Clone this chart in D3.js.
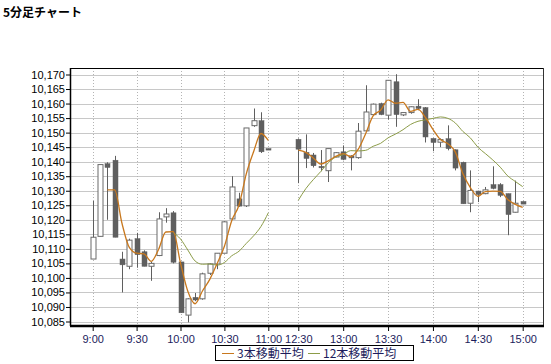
<!DOCTYPE html>
<html>
<head>
<meta charset="utf-8">
<script src="https://cdn.jsdelivr.net/npm/d3@7"></script>
<style>
  body { margin: 0; background: #fff; }
  svg { display: block; }
  .title { font-family: "Noto Sans CJK JP", sans-serif; font-weight: bold; font-size: 12px; }
  .tick text { font-family: "Liberation Sans", Arial, sans-serif; font-size: 11px; }
  .legend text { font-family: "Noto Sans CJK JP", sans-serif; font-size: 12px; fill: #1c1c5c; }
</style>
</head>
<body>
<div id="chart"></div>
<script>
// 5-minute bars, morning 9:00-11:00 then afternoon 12:30-15:00
const times = ["9:00","9:05","9:10","9:15","9:20","9:25","9:30","9:35","9:40","9:45","9:50","9:55",
  "10:00","10:05","10:10","10:15","10:20","10:25","10:30","10:35","10:40","10:45","10:50","10:55","11:00",
  "12:30","12:35","12:40","12:45","12:50","12:55","13:00","13:05","13:10","13:15","13:20","13:25",
  "13:30","13:35","13:40","13:45","13:50","13:55","14:00","14:05","14:10","14:15","14:20","14:25",
  "14:30","14:35","14:40","14:45","14:50","14:55","15:00"];

const opens = [10106.5,10114.3,10139.3,10140.5,10106.5,10104,10113.5,10109,10104,10107.7,10121,10122.4,
  10105.5,10087.2,10093.3,10092.8,10101.6,10104.8,10108.5,10120.3,10127.2,10124.8,10152.4,10154.1,10144.5,
  10147.7,10143.2,10142.3,10138.4,10136.9,10141.6,10143.4,10142,10141.4,10150.6,10156.2,10160,
  10156,10167.5,10156.1,10156.9,10159.1,10158.6,10148,10146.7,10147.9,10144.1,10139.8,10125.7,
  10129.9,10129,10132.1,10132.1,10129,10122.6,10126.3];
const highs = [10126.5,10139,10139.8,10142,10109,10113.5,10115.5,10109.5,10105.5,10122.6,10124,10123,
  10105.5,10093,10094.8,10101.8,10105,10108.5,10119.5,10135,10129.3,10151.6,10158.3,10157,10144.5,
  10148,10149.4,10143,10144,10144.5,10143.3,10145.6,10142.2,10153.3,10166.3,10160,10160.3,
  10168,10170.1,10157,10159,10161.5,10158.8,10148,10148,10152.5,10144.2,10140,10137,
  10130,10131.3,10138.4,10132.6,10129,10133.5,10126.3];
const lows = [10106.5,10114.3,10120,10114,10095,10103,10103.5,10104,10099,10107.5,10119,10105,
  10088,10084.7,10092,10092.5,10101,10103,10108.5,10120,10124.5,10124.4,10152,10143,10144.3,
  10132.6,10137.8,10138,10136.7,10133,10141.5,10140.5,10137,10141,10150.5,10156,10156,
  10154.5,10152,10155.7,10156.5,10157.7,10146.6,10143.6,10145,10143.9,10137,10125.5,10122.6,
  10126.1,10128.8,10130.5,10127.8,10114.7,10122.5,10125.4];
const closes = [10114,10139,10138,10114,10104.5,10113,10108,10104,10105,10120.3,10122,10105.4,
  10088,10092.8,10092.4,10101.4,10104.8,10108.5,10119.3,10131.3,10124.7,10151.6,10154.1,10143.4,10144.3,
  10144.3,10141.1,10138.6,10137.9,10144.5,10143.1,10140.8,10141.3,10150.5,10157.1,10159.8,10156.2,
  10168,10156.2,10156.9,10158.9,10158.3,10148.5,10146.6,10147.6,10144.5,10137.8,10125.5,10130.1,
  10128.7,10130.3,10130.8,10128.4,10121.8,10125.7,10125.4];

// moving averages
const ma3 = [null,null,10130.3,10130.3,10118.8,10110.5,10108.5,10108.3,10105.7,10109.8,10115.8,10115.9,
  10105.1,10095.4,10091.1,10095.5,10099.5,10104.9,10110.9,10119.7,10125.1,10135.9,10143.5,10149.7,10147.3,
  10144.0,10143.2,10141.3,10139.2,10140.3,10141.8,10142.8,10141.7,10144.2,10149.6,10155.8,10157.7,
  10161.3,10160.1,10160.4,10157.3,10158.0,10155.2,10151.1,10147.6,10146.2,10143.3,10135.9,10131.1,
  10128.1,10129.7,10129.9,10129.8,10127.0,10125.3,10124.3];
const ma12 = [null,null,null,null,null,null,null,null,null,null,null,10115.6,
  10113.4,10109.6,10105.8,10104.7,10104.8,10104.4,10105.3,10107.6,10109.2,10111.9,10114.5,10117.7,10122.4,
  10126.7,10130.7,10133.8,10136.6,10139.6,10141.6,10142.4,10143.8,10143.7,10143.9,10145.3,10146.3,
  10148.2,10149.5,10151.0,10152.8,10153.9,10154.4,10154.9,10155.4,10154.9,10153.3,10150.4,10148.2,
  10145.0,10142.8,10140.6,10138.1,10135.1,10133.2,10131.4];

const tickLabels = ["9:00","9:30","10:00","10:30","11:00","12:30","13:00","13:30","14:00","14:30","15:00"];
const yTicks = d3.range(10085, 10171, 5);
const sessions = [[0, 24], [25, 55]];

const width = 551, height = 364;
const plot = { left: 71, right: 543, top: 68, bottom: 326 };

const svg = d3.select("#chart").append("svg")
  .attr("width", width)
  .attr("height", height);

svg.append("rect").attr("width", width).attr("height", height).attr("fill", "#fff");

svg.append("text")
  .attr("class", "title")
  .attr("x", 3)
  .attr("y", 17)
  .text("5分足チャート");

// index scale: gap between the two sessions
const x = d3.scaleLinear()
  .domain([0, 24, 25, 55])
  .range([92.7, 268.3, 298.3, 522.7]);
const y = d3.scaleLinear()
  .domain([10085, 10170])
  .range([321.5, 74.5]);

const tickIdx = tickLabels.map(t => times.indexOf(t));

// grid
svg.append("g")
  .selectAll("line")
  .data(yTicks)
  .join("line")
  .attr("x1", plot.left)
  .attr("x2", plot.right)
  .attr("y1", d => Math.round(y(d)) + 0.5)
  .attr("y2", d => Math.round(y(d)) + 0.5)
  .attr("stroke", "#c8c8c8");

svg.append("g")
  .selectAll("line")
  .data(tickIdx)
  .join("line")
  .attr("x1", d => Math.round(x(d)) + 0.5)
  .attr("x2", d => Math.round(x(d)) + 0.5)
  .attr("y1", plot.top)
  .attr("y2", plot.bottom)
  .attr("stroke", "#b4b4b4")
  .attr("stroke-dasharray", "1,2");

// candles
const bars = times.map((t, i) => ({ i, o: opens[i], h: highs[i], l: lows[i], c: closes[i] }));
const bw = 5;
const candle = svg.append("g")
  .selectAll("g")
  .data(bars)
  .join("g");

candle.append("line")
  .attr("x1", d => Math.round(x(d.i)) + 0.5)
  .attr("x2", d => Math.round(x(d.i)) + 0.5)
  .attr("y1", d => y(d.h))
  .attr("y2", d => y(d.l))
  .attr("stroke", "#5f5f5f");

candle.append("rect")
  .attr("x", d => Math.round(x(d.i)) - 2)
  .attr("width", bw)
  .attr("y", d => y(Math.max(d.o, d.c)))
  .attr("height", d => Math.max(1.5, Math.abs(y(d.o) - y(d.c))))
  .attr("fill", d => d.c > d.o ? "#fff" : "#5f5f5f")
  .attr("stroke", d => d.c > d.o ? "#6a6a6a" : "#5f5f5f")
  .attr("stroke-width", d => d.c > d.o ? 1 : 0.5);

// moving averages, one path per session
function drawLine(values, color, w) {
  const line = d3.line()
    .defined(d => d.v != null)
    .x(d => x(d.i))
    .y(d => y(d.v))
    .curve(d3.curveMonotoneX);
  sessions.forEach(([a, b]) => {
    const pts = d3.range(a, b + 1).map(i => ({ i, v: values[i] }));
    svg.append("path")
      .datum(pts)
      .attr("d", line)
      .attr("fill", "none")
      .attr("stroke", color)
      .attr("stroke-width", w);
  });
}
drawLine(ma12, "#8c9c48", 1);
drawLine(ma3, "#c8781e", 1.3);

// axes
const yAxis = svg.append("g")
  .attr("transform", `translate(${plot.left},0)`)
  .call(d3.axisLeft(y).tickValues(yTicks).tickFormat(d3.format(",")).tickSize(5).tickPadding(1));
yAxis.select(".domain").remove();
yAxis.selectAll(".tick line").attr("stroke", "#000");
yAxis.selectAll(".tick text").attr("fill", "#000");

const xAxis = svg.append("g")
  .attr("transform", `translate(0,${plot.bottom})`)
  .call(d3.axisBottom(x).tickValues(tickIdx).tickFormat((d, i) => tickLabels[i]).tickSize(5).tickPadding(4));
xAxis.select(".domain").remove();
xAxis.selectAll(".tick line").attr("stroke", "#000");
xAxis.selectAll(".tick text").attr("fill", "#1c1c5c");

// frame
svg.append("line").attr("x1", plot.left).attr("x2", plot.right).attr("y1", plot.top + 0.5).attr("y2", plot.top + 0.5).attr("stroke", "#000");
svg.append("line").attr("x1", plot.left - 0.5).attr("x2", plot.left - 0.5).attr("y1", plot.top).attr("y2", plot.bottom).attr("stroke", "#000").attr("stroke-width", 1.5);
svg.append("line").attr("x1", plot.right + 0.5).attr("x2", plot.right + 0.5).attr("y1", plot.top).attr("y2", plot.bottom).attr("stroke", "#333");
svg.append("line").attr("x1", plot.left - 1).attr("x2", plot.right + 1).attr("y1", plot.bottom).attr("y2", plot.bottom).attr("stroke", "#000").attr("stroke-width", 2.5);

// legend
const legendItems = [
  { label: "3本移動平均", color: "#c8781e", x: 222 },
  { label: "12本移動平均", color: "#8c9c48", x: 308 }
];
const legend = svg.append("g").attr("class", "legend");
legend.append("rect")
  .attr("x", 215.5).attr("y", 345.5)
  .attr("width", 198).attr("height", 15)
  .attr("fill", "#fff").attr("stroke", "#000");
const item = legend.selectAll("g.item")
  .data(legendItems)
  .join("g")
  .attr("class", "item");
item.append("line")
  .attr("x1", d => d.x).attr("x2", d => d.x + 12)
  .attr("y1", 353.5).attr("y2", 353.5)
  .attr("stroke", d => d.color);
item.append("text")
  .attr("x", d => d.x + 15)
  .attr("y", 358)
  .text(d => d.label);
</script>
</body>
</html>
